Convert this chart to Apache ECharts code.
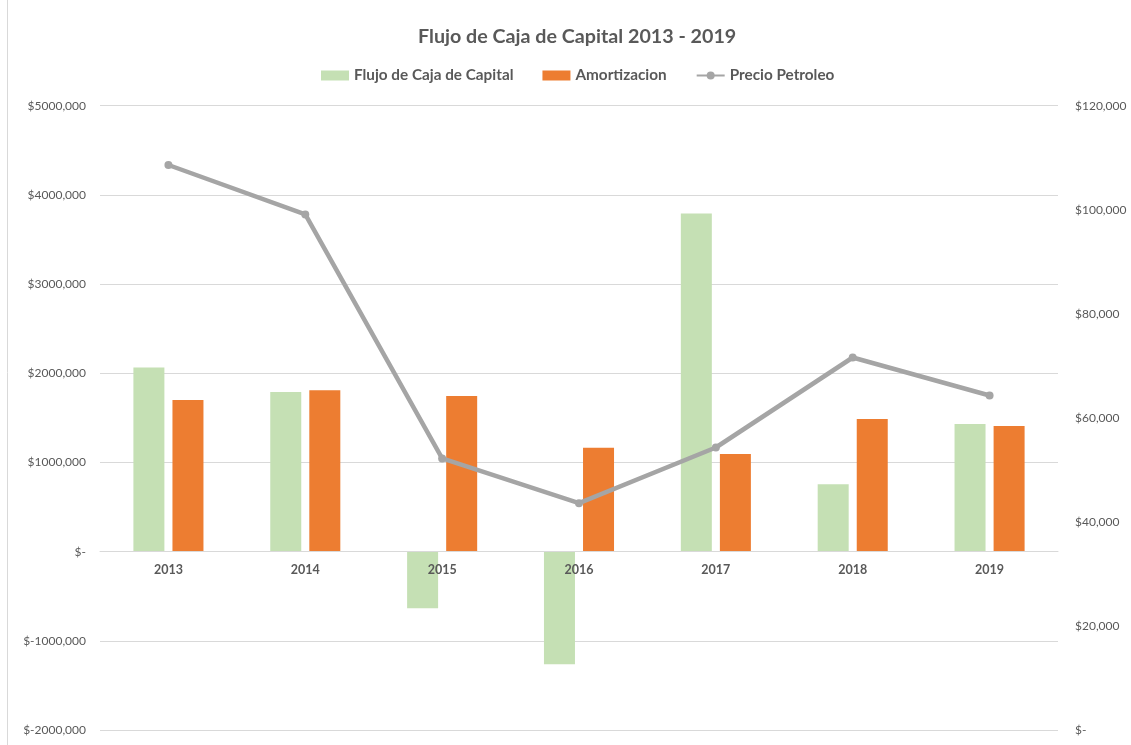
<!DOCTYPE html>
<html>
<head>
<meta charset="utf-8">
<script src="https://cdn.jsdelivr.net/npm/echarts@6/dist/echarts.min.js"></script>
<style>
  html, body { margin: 0; padding: 0; background: #fff; }
  #chart { width: 1131px; height: 745px; }
</style>
</head>
<body>
<div id="chart"></div>
<script>
// Years on the category axis
const years = ['2013', '2014', '2015', '2016', '2017', '2018', '2019'];
// Capital cash flow (left axis, $)
const flujoCaja = [2065000, 1790000, -635000, -1262000, 3790000, 755000, 1430000];
// Amortization (left axis, $)
const amortizacion = [1700000, 1810000, 1745000, 1166000, 1095000, 1488000, 1410000];
// Oil price (right axis, $)
const precioPetroleo = [108600, 99100, 52200, 43600, 54300, 71600, 64300];

// Tick labels for both value axes, bottom to top
const leftTicks = ['$-2000,000', '$-1000,000', '$-', '$1000,000', '$2000,000', '$3000,000', '$4000,000', '$5000,000'];
const rightTicks = ['$-', '$20,000', '$40,000', '$60,000', '$80,000', '$100,000', '$120,000'];

const textColor = '#595959';
const gridColor = '#D9D9D9';
const fontFamily = 'Lato, "Open Sans", sans-serif';

// Plot box and left-axis range; the category axis sits on the zero line
const gridTop = 105.7, gridBottom = 15, chartH = 745;
const leftMin = -2000000, leftMax = 5000000;
const plotH = chartH - gridTop - gridBottom;
const zeroOffset = -plotH * (0 - leftMin) / (leftMax - leftMin);

const chart = echarts.init(document.getElementById('chart'));

chart.setOption({
  animation: false,
  textStyle: { fontFamily: fontFamily },
  title: {
    text: 'Flujo de Caja de Capital 2013 - 2019',
    left: 413,
    top: 22,
    textStyle: { fontSize: 19.7, fontWeight: 'bold', color: textColor, fontFamily: fontFamily }
  },
  legend: {
    top: 63,
    left: 316,
    itemWidth: 28,
    itemHeight: 10,
    itemGap: 29,
    textStyle: { fontSize: 15.3, fontWeight: 'bold', color: textColor, fontFamily: fontFamily },
    data: [
      { name: 'Flujo de Caja de Capital', icon: 'rect' },
      { name: 'Amortizacion', icon: 'rect' },
      { name: 'Precio Petroleo' }
    ]
  },
  grid: { left: 100, right: 73, top: gridTop, bottom: gridBottom, outerBoundsMode: 'none', containLabel: false },
  xAxis: {
    type: 'category',
    data: years,
    offset: zeroOffset,
    z: 10,
    axisLine: { onZero: false, lineStyle: { color: gridColor, width: 1 } },
    axisTick: { show: false },
    axisLabel: { color: textColor, fontSize: 12.5, fontWeight: 'bold', margin: 12, fontFamily: fontFamily }
  },
  yAxis: [
    {
      type: 'value',
      min: leftMin,
      max: leftMax,
      interval: 1000000,
      axisLine: { show: false },
      axisTick: { show: false },
      splitLine: { lineStyle: { color: gridColor, width: 1 } },
      axisLabel: {
        color: textColor, fontSize: 12, margin: 14, fontFamily: fontFamily,
        formatter: function (v) { return leftTicks[Math.round((v - leftMin) / 1000000)]; }
      }
    },
    {
      type: 'value',
      min: 0,
      max: 120000,
      interval: 20000,
      position: 'right',
      axisLine: { show: false },
      axisTick: { show: false },
      splitLine: { show: false },
      axisLabel: {
        color: textColor, fontSize: 12, margin: 17, fontFamily: fontFamily,
        formatter: function (v) { return rightTicks[Math.round(v / 20000)]; }
      }
    }
  ],
  series: [
    {
      name: 'Flujo de Caja de Capital',
      type: 'bar',
      data: flujoCaja,
      barWidth: 31,
      barGap: '26%',
      itemStyle: { color: '#C5E0B4' }
    },
    {
      name: 'Amortizacion',
      type: 'bar',
      data: amortizacion,
      barWidth: 31,
      barGap: '26%',
      itemStyle: { color: '#ED7D31' }
    },
    {
      name: 'Precio Petroleo',
      type: 'line',
      yAxisIndex: 1,
      data: precioPetroleo,
      symbol: 'circle',
      symbolSize: 8,
      lineStyle: { color: '#A5A5A5', width: 4.5 },
      itemStyle: { color: '#A5A5A5' },
      z: 5
    }
  ],
  graphic: [
    {
      type: 'line',
      shape: { x1: 7.5, y1: 0, x2: 7.5, y2: 745 },
      style: { stroke: gridColor, lineWidth: 1 },
      silent: true
    }
  ]
});
</script>
</body>
</html>
